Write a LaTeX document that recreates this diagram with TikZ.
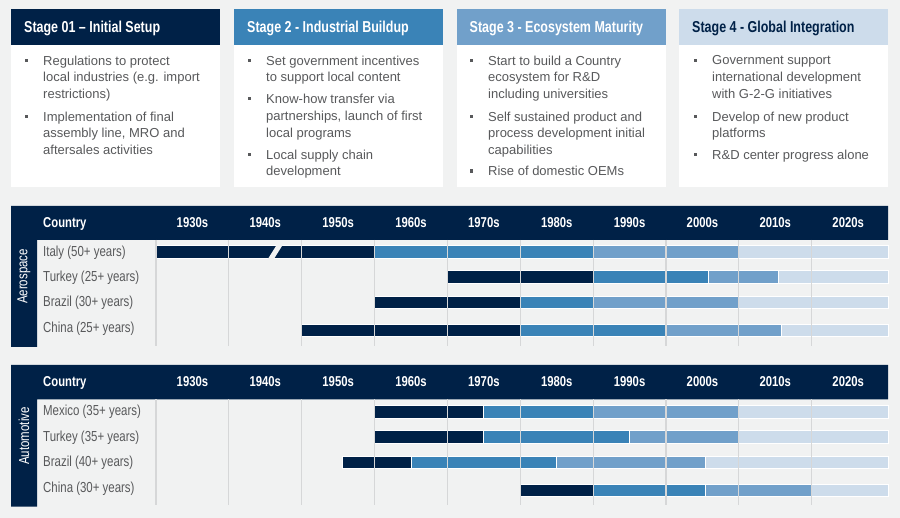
\documentclass[tikz,border=0pt]{standalone}
\usepackage{fontspec}
\setmainfont{Liberation Sans}
\newfontfamily\narrowfont[FakeStretch=0.79]{Liberation Sans}
\definecolor{navy}{RGB}{0,33,71}
\definecolor{midblue}{RGB}{58,131,183}
\definecolor{paleblue}{RGB}{113,160,202}
\definecolor{iceblue}{RGB}{205,220,235}
\definecolor{pagegray}{RGB}{241,242,242}
\definecolor{textgray}{RGB}{88,89,91}
\definecolor{gridgray}{RGB}{214,215,216}
\tikzset{
  stagehead/.style={anchor=base west, inner sep=0pt, text=white, font=\narrowfont\bfseries\fontsize{15.8}{18}\selectfont},
  stagetext/.style={anchor=north west, align=left, inner sep=0pt, text=textgray, font=\fontsize{13}{16.7}\selectfont},
  colhead/.style={anchor=base, inner sep=0pt, text=white, font=\narrowfont\bfseries\fontsize{14.3}{16}\selectfont},
  rowlabel/.style={anchor=base west, inner sep=0pt, text=textgray, font=\narrowfont\fontsize{14.5}{16}\selectfont},
  sector/.style={rotate=90, inner sep=0pt, text=white, font=\narrowfont\fontsize{14.5}{16}\selectfont},
  seg/.style={draw=white, line width=0.8pt},
  grid line/.style={gridgray, line width=1.2pt}
}
\begin{document}
\begin{tikzpicture}[x=1pt,y=-1pt]
  \fill[pagegray] (0,0) rectangle (900,518);
  \useasboundingbox (0,0) rectangle (900,518);

  % stage boxes
  \foreach \x/\c in {11/navy, 234/midblue, 457/paleblue, 679/iceblue} {
    \fill[\c] (\x,9) rectangle ++(209,36);
    \fill[white] (\x,45) rectangle ++(209,141.7);
  }
  \node[stagehead] (h1) at (24,32.7) {Stage 01 – Initial Setup};
  \node[stagehead] (h2) at (247,32.7) {Stage 2 - Industrial Buildup};
  \node[stagehead] (h3) at (469.5,32.7) {Stage 3 - Ecosystem Maturity};
  \node[stagehead, text=navy] (h4) at (692,32.7) {Stage 4 - Global Integration};

  \node[stagetext] (b1a) at (43,55.5) {Regulations to protect\\local industries (e.g. import\\restrictions)};
  \node[stagetext] (b1b) at (43,111.5) {Implementation of final\\assembly line, MRO and\\aftersales activities};
  \node[stagetext] (b2a) at (266,55.5) {Set government incentives\\to support local content};
  \node[stagetext] (b2b) at (266,94) {Know-how transfer via\\partnerships, launch of first\\local programs};
  \node[stagetext] (b2c) at (266,149.5) {Local supply chain\\development};
  \node[stagetext] (b3a) at (488,55.5) {Start to build a Country\\ecosystem for R\&D\\including universities};
  \node[stagetext] (b3b) at (488,111.5) {Self sustained product and\\process development initial\\capabilities};
  \node[stagetext] (b3c) at (488,166.2) {Rise of domestic OEMs};
  \node[stagetext] (b4a) at (712,55.5) {Government support\\international development\\with G-2-G initiatives};
  \node[stagetext] (b4b) at (712,111.5) {Develop of new product\\platforms};
  \node[stagetext] (b4c) at (712,149.5) {R\&D center progress alone};
  \foreach \b in {b1a,b1b,b2a,b2b,b2c,b3a,b3b,b3c,b4a,b4b,b4c}
    \fill[textgray] ([xshift=-18.5pt,yshift=-3.3pt]\b.north west) rectangle ++(3.2,3.2);

  % chart frames
  \fill[navy] (11,206) rectangle (888,240) (11,240) rectangle (37,347);
  \fill[navy] (11,365) rectangle (888,399.3) (11,399) rectangle (37,506.7);
  \node[sector] (aero) at (24,276.5) {Aerospace};
  \node[sector] (auto) at (24,436) {Automotive};
  \node[colhead, anchor=base west] (acountry) at (43,227.1) {Country};
  \node[colhead, anchor=base west] (bcountry) at (43,386.8) {Country};
  \foreach \i [evaluate=\i as \yr using int(1930+10*\i)] in {0,...,9} {
    \node[colhead] (ad\i) at ({156+72.86*(\i+0.5)},227.1) {\yr s};
    \node[colhead] (bd\i) at ({156+72.86*(\i+0.5)},386.8) {\yr s};
  }

  \node[rowlabel] (aitaly) at (43,256.9) {Italy (50+ years)};
  \node[rowlabel] (aturkey) at (43,281.9) {Turkey (25+ years)};
  \node[rowlabel] (abrazil) at (43,306.9) {Brazil (30+ years)};
  \node[rowlabel] (achina) at (43,332.2) {China (25+ years)};
  \node[rowlabel] (bmexico) at (43,415.9) {Mexico (35+ years)};
  \node[rowlabel] (bturkey) at (43,441.2) {Turkey (35+ years)};
  \node[rowlabel] (bbrazil) at (43,466.2) {Brazil (40+ years)};
  \node[rowlabel] (bchina) at (43,492.5) {China (30+ years)};

  % bars
  \foreach \y/\a/\b/\c in {
      252/0/3/navy, 252/3/6/midblue, 252/6/8/paleblue, 252/8/10.05/iceblue,
      277/4/6/navy, 277/6/7.58/midblue, 277/7.58/8.54/paleblue, 277/8.54/10.05/iceblue,
      302.5/3/5/navy, 302.5/5/6/midblue, 302.5/6/8/paleblue, 302.5/8/10.05/iceblue,
      330.5/2/5/navy, 330.5/5/7/midblue, 330.5/7/8.59/paleblue, 330.5/8.59/10.05/iceblue,
      412/3/4.49/navy, 412/4.49/6/midblue, 412/6/8/paleblue, 412/8/10.05/iceblue,
      436.7/3/4.49/navy, 436.7/4.49/6.5/midblue, 436.7/6.5/8/paleblue, 436.7/8/10.05/iceblue,
      462.3/2.56/3.5/navy, 462.3/3.5/5.5/midblue, 462.3/5.5/7.54/paleblue, 462.3/7.54/10.05/iceblue,
      490.3/5/6/navy, 490.3/6/7.54/midblue, 490.3/7.54/8.99/paleblue, 490.3/8.99/10.05/iceblue}
    \path[fill=\c, seg] ({156+72.86*\a},{\y-6.3}) rectangle ({156+72.86*\b},{\y+6.3});
  \fill[pagegray] (268,258.8) -- (274,258.8) -- (282.5,245.2) -- (276.5,245.2) -- cycle;

  \foreach \i in {0,...,9} {
    \draw[grid line] ({156+72.86*\i},240) -- ({156+72.86*\i},346);
    \draw[grid line] ({156+72.86*\i},399.3) -- ({156+72.86*\i},505);
  }
\end{tikzpicture}
\end{document}
